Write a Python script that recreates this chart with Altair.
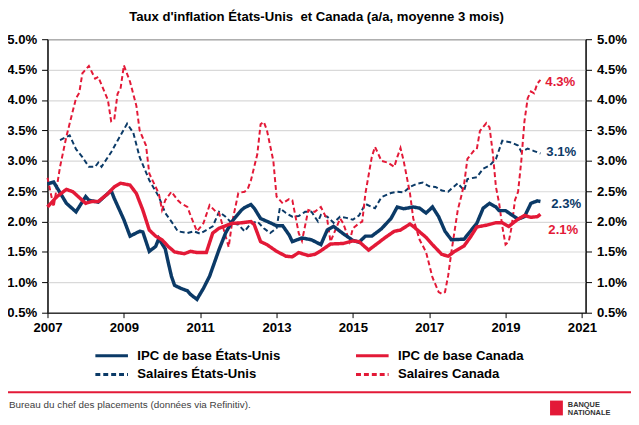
import altair as alt
import pandas as pd

NAVY = "#0b3a67"
RED = "#e31937"
FONT = "Liberation Sans"

# ---- data ----
us_cpi_dates = ["2007-01","2007-03","2007-07","2007-10","2008-01","2008-02","2008-05","2008-09","2008-10",
    "2009-01","2009-03","2009-06","2009-07","2009-09","2009-11","2009-12",
    "2010-02","2010-03","2010-04","2010-05","2010-07","2010-09","2010-10","2010-12",
    "2011-02","2011-04","2011-07","2011-09","2011-11",
    "2012-02","2012-03","2012-05","2012-06","2012-08","2012-11",
    "2013-01","2013-03","2013-05","2013-06","2013-09","2013-12",
    "2014-03","2014-05","2014-07","2014-10",
    "2015-01","2015-03","2015-05","2015-07","2015-10",
    "2016-01","2016-03","2016-05","2016-08","2016-10","2016-12",
    "2017-02","2017-04","2017-06","2017-08","2017-12",
    "2018-01","2018-04","2018-06","2018-08","2018-10","2018-11",
    "2019-01","2019-03","2019-05","2019-07","2019-09","2019-11","2019-12"]
us_cpi_values = [2.62,2.65,2.30,2.16, 2.41,2.35,2.32,2.51,2.38,
    2.03,1.76,1.84,1.83,1.51,1.59,1.72,
    1.55,1.33,1.10,0.95,0.90,0.86,0.80,0.72,
    0.90,1.10,1.54,1.81,2.00,
    2.19,2.23,2.28,2.22,2.05,1.98,
    1.93,1.93,1.78,1.67,1.73,1.70,
    1.62,1.86,1.92,1.80,
    1.69,1.66,1.76,1.76,1.88,
    2.05,2.24,2.21,2.24,2.22,2.14,
    2.24,2.08,1.84,1.70,1.71,
    1.78,1.97,2.22,2.30,2.24,2.18,
    2.18,2.11,2.04,2.08,2.30,2.34,2.33]

ca_cpi_dates = ["2007-01","2007-04","2007-07","2007-09",
    "2008-01","2008-03","2008-05","2008-08","2008-10","2008-12",
    "2009-03","2009-05","2009-07","2009-09","2009-11",
    "2010-01","2010-03","2010-05","2010-08","2010-10","2010-12",
    "2011-03","2011-05","2011-07","2011-11",
    "2012-02","2012-05","2012-06","2012-08","2012-10",
    "2013-01","2013-04","2013-06","2013-08","2013-11",
    "2014-01","2014-03","2014-06","2014-10",
    "2015-01","2015-03","2015-06","2015-09","2015-11",
    "2016-02","2016-04","2016-07","2016-08","2016-12",
    "2017-02","2017-05","2017-07","2017-09","2017-12",
    "2018-02","2018-04","2018-07","2018-10","2018-12",
    "2019-02","2019-05","2019-07","2019-09","2019-11","2019-12"]
ca_cpi_values = [2.24,2.41,2.53,2.49,
    2.30,2.33,2.33,2.46,2.57,2.63,
    2.60,2.46,2.19,1.86,1.76,
    1.70,1.59,1.50,1.47,1.51,1.49,
    1.49,1.81,1.89,1.97,
    1.98,2.00,1.95,1.67,1.62,
    1.51,1.43,1.42,1.49,1.44,
    1.46,1.52,1.63,1.64,
    1.68,1.67,1.53,1.65,1.73,
    1.84,1.86,1.96,1.92,1.74,
    1.62,1.46,1.43,1.51,1.60,
    1.75,1.91,1.94,1.98,1.98,
    1.92,2.04,2.10,2.07,2.08,2.12]

us_wage_dates = ["2007-05","2007-08","2007-10","2007-12",
    "2008-02","2008-04","2008-05","2008-06","2008-09","2008-11",
    "2009-02","2009-04","2009-06","2009-09","2009-12",
    "2010-02","2010-04","2010-06","2010-09","2010-11",
    "2011-01","2011-03","2011-05","2011-07","2011-09","2011-11",
    "2012-01","2012-03","2012-05","2012-07","2012-09","2012-11",
    "2013-01","2013-02","2013-04","2013-06","2013-08","2013-10","2013-12",
    "2014-02","2014-03","2014-05","2014-07","2014-09","2014-11",
    "2015-01","2015-03","2015-05","2015-07","2015-08","2015-10",
    "2016-01","2016-03","2016-05","2016-07","2016-09","2016-11",
    "2017-01","2017-03","2017-05","2017-07","2017-08","2017-10","2017-12",
    "2018-01","2018-04","2018-06","2018-08","2018-10","2018-12",
    "2019-03","2019-05","2019-06","2019-08","2019-10","2019-12"]
us_wage_values = [3.34,3.42,3.19,3.06,
    2.90,2.90,2.97,2.90,3.14,3.33,
    3.61,3.46,3.06,2.68,2.41,
    2.14,2.00,1.84,1.81,1.84,
    1.80,1.86,1.92,2.16,2.08,1.97,
    1.95,1.84,1.97,2.00,1.89,1.81,
    1.89,2.22,2.14,2.08,2.09,2.16,2.16,
    2.00,2.11,2.08,1.98,2.08,2.06,
    2.03,2.10,2.29,2.24,2.22,2.40,
    2.47,2.49,2.48,2.57,2.62,2.64,
    2.58,2.57,2.51,2.49,2.54,2.63,2.51,
    2.70,2.73,2.87,2.92,3.03,3.33,
    3.30,3.25,3.15,3.20,3.16,3.12]

ca_wage_dates = ["2007-01","2007-03","2007-05","2007-07","2007-10","2007-11","2007-12",
    "2008-02","2008-04","2008-05","2008-08","2008-09","2008-10","2008-11","2008-12",
    "2009-01","2009-03","2009-05","2009-06","2009-08","2009-09","2009-12",
    "2010-01","2010-02","2010-04","2010-06","2010-07","2010-09","2010-10","2010-12",
    "2011-02","2011-04","2011-06","2011-07","2011-09","2011-10","2011-11",
    "2012-01","2012-03","2012-04","2012-05","2012-07","2012-08","2012-09","2012-10","2012-12",
    "2013-01","2013-03","2013-05","2013-06","2013-08","2013-09","2013-11",
    "2014-01","2014-03","2014-05","2014-06","2014-08","2014-09","2014-10","2014-12",
    "2015-01","2015-03","2015-04","2015-05","2015-07","2015-08","2015-10","2015-12",
    "2016-02","2016-03","2016-04","2016-05","2016-07","2016-08","2016-10","2016-12",
    "2017-02","2017-04","2017-05","2017-06","2017-07","2017-08","2017-10","2017-11","2017-12",
    "2018-01","2018-03","2018-04","2018-05","2018-07","2018-08","2018-09","2018-10","2018-11","2018-12",
    "2019-01","2019-02","2019-03","2019-04","2019-05","2019-06","2019-07","2019-08","2019-09","2019-10","2019-11","2019-12"]
ca_wage_values = [2.72,2.24,2.90,3.40,4.03,4.12,4.44,
    4.56,4.35,4.38,4.00,3.65,3.68,4.10,4.20,
    4.57,4.30,3.90,3.50,3.25,2.79,2.46,
    2.19,2.35,2.49,2.35,2.30,2.24,2.10,1.84,
    1.97,2.27,2.16,2.14,1.76,1.58,1.97,
    2.47,2.49,2.54,2.68,3.11,3.60,3.64,3.50,3.00,
    2.41,2.30,2.37,2.35,1.81,1.68,2.19,
    2.16,2.24,2.03,1.67,1.92,2.05,1.97,1.67,
    1.89,1.97,2.00,2.46,3.06,3.23,3.00,2.97,
    2.90,3.06,3.21,3.00,2.46,2.05,1.70,1.50,
    1.08,0.84,0.81,0.84,1.11,1.50,2.19,2.40,2.62,
    3.03,3.16,3.19,3.49,3.62,3.55,3.13,2.57,2.30,1.92,
    1.62,1.67,1.92,2.35,2.49,3.00,3.65,4.03,4.14,4.11,4.27,4.33]

# legend order is column-major with two columns:
# column 1 = États-Unis series, column 2 = Canada series
series_names = ["IPC de base États-Unis", "Salaires États-Unis", "IPC de base Canada", "Salaires Canada"]
series_colors = [NAVY, NAVY, RED, RED]
series_dash = [[1, 0], [5, 3], [1, 0], [5, 3]]
solid_series = ["IPC de base États-Unis", "IPC de base Canada"]
dashed_series = ["Salaires États-Unis", "Salaires Canada"]
y_ticks = [0.5, 1.0, 1.5, 2.0, 2.5, 3.0, 3.5, 4.0, 4.5, 5.0]
x_tick_years = [2007, 2009, 2011, 2013, 2015, 2017, 2019, 2021]

title_text = "Taux d'inflation États-Unis\u00a0 et Canada (a/a, moyenne 3 mois)"
source_text = "Bureau du chef des placements (données via Refinitiv)."

all_series = [
    ("IPC de base États-Unis", us_cpi_dates, us_cpi_values, NAVY),
    ("IPC de base Canada", ca_cpi_dates, ca_cpi_values, RED),
    ("Salaires États-Unis", us_wage_dates, us_wage_values, NAVY),
    ("Salaires Canada", ca_wage_dates, ca_wage_values, RED),
]
rows = []
for name, ds, vs, _ in all_series:
    assert len(ds) == len(vs), name
    for d, v in zip(ds, vs):
        rows.append({"series": name, "date": d, "value": v})
df = pd.DataFrame(rows)
df["date"] = pd.to_datetime(df["date"])

Y_DOMAIN = [0.5, 5.0]
x_enc = alt.X("date:T",
    scale=alt.Scale(domain=[alt.DateTime(year=2007, month=1, date=1),
                            alt.DateTime(year=2021, month=2, date=5)]),
    axis=alt.Axis(values=[alt.DateTime(year=y, month=1, date=1) for y in x_tick_years],
                  format="%Y", title=None, tickSize=5, labelPadding=3, grid=False,
                  labelFlush=False))

label_expr = "format(datum.value, '.1f') + '%'"

def y_enc(orient, grid):
    return alt.Y("value:Q",
        scale=alt.Scale(domain=Y_DOMAIN, nice=False, zero=False),
        axis=alt.Axis(orient=orient, values=y_ticks, labelExpr=label_expr, title=None,
                      grid=grid, tickSize=6, labelPadding=5))

color_enc = alt.Color("series:N",
    scale=alt.Scale(domain=series_names, range=series_colors),
    sort=series_names, legend=alt.Legend(title=None))
dash_enc = alt.StrokeDash("series:N",
    scale=alt.Scale(domain=series_names, range=series_dash),
    sort=series_names, legend=alt.Legend(title=None))

dashed = alt.Chart(df).transform_filter(
    alt.FieldOneOfPredicate(field="series", oneOf=dashed_series)
).mark_line(strokeWidth=2).encode(
    x=x_enc, y=y_enc("left", True), color=color_enc, strokeDash=dash_enc)

solid = alt.Chart(df).transform_filter(
    alt.FieldOneOfPredicate(field="series", oneOf=solid_series)
).mark_line(strokeWidth=3.5).encode(
    x=x_enc, y=y_enc("right", False), color=color_enc, strokeDash=dash_enc)

# end-of-line value labels
label_offsets = {  # (dx, dy) in pixels
    "IPC de base États-Unis": (11, 3),
    "IPC de base Canada": (8, 16),
    "Salaires États-Unis": (6, -1),
    "Salaires Canada": (5, 2),
}
label_layers = []
for name, ds, vs, col in all_series:
    ldf = pd.DataFrame({"date": [pd.to_datetime(ds[-1])], "value": [vs[-1]],
                        "label": [f"{vs[-1]:.1f}%"]})
    dx, dy = label_offsets[name]
    label_layers.append(
        alt.Chart(ldf).mark_text(align="left", baseline="middle", dx=dx, dy=dy,
                                 font=FONT, fontSize=13.3, fontWeight="bold", color=col)
        .encode(x=alt.X("date:T"),
                y=alt.Y("value:Q", scale=alt.Scale(domain=Y_DOMAIN, nice=False, zero=False), axis=None),
                text="label:N"))

one = pd.DataFrame({"k": [0]})
footer_rule = alt.Chart(one).mark_rule(color=RED, strokeWidth=2).encode(
    x=alt.value(-40), x2=alt.value(591), y=alt.value(357.5))
footer_text = alt.Chart(one).mark_text(text=source_text, align="left", baseline="middle",
    font=FONT, fontSize=10, color="#404040").encode(x=alt.value(-39), y=alt.value(371))
logo_box = alt.Chart(one).mark_rect(color=RED).encode(
    x=alt.value(509), x2=alt.value(522), y=alt.value(366), y2=alt.value(381))
logo_t1 = alt.Chart(one).mark_text(text="BANQUE", align="left", baseline="middle",
    font=FONT, fontSize=7.5, fontWeight="bold", color="#333333").encode(x=alt.value(527), y=alt.value(370))
logo_t2 = alt.Chart(one).mark_text(text="NATIONALE", align="left", baseline="middle",
    font=FONT, fontSize=7.5, fontWeight="bold", color="#333333").encode(x=alt.value(527), y=alt.value(378.5))

chart = alt.layer(dashed, solid, *label_layers, footer_rule, footer_text, logo_box, logo_t1, logo_t2
).resolve_scale(y="independent").properties(
    width=545, height=277,
    padding={"left": 40, "top": 29, "right": 46, "bottom": 103},
    autosize=alt.AutoSizeParams(type="none"),
    title=alt.TitleParams(text=title_text, font=FONT, fontSize=13.3, fontWeight="bold",
                          color="black", anchor="middle", offset=9),
).configure_axis(
    labelFont=FONT, labelFontSize=13.3, labelFontWeight="bold", labelColor="black",
    domainColor="black", tickColor="black", gridColor="#d9d9d9", gridWidth=1.2,
).configure_view(stroke="black", strokeWidth=1).configure_legend(
    orient="none", legendX=47, legendY=311, columns=2, columnPadding=75, rowPadding=0,
    clipHeight=19,
    symbolType="stroke", symbolSize=1089, symbolStrokeWidth=3,
    labelFont=FONT, labelFontSize=13.3, labelFontWeight="bold", labelColor="black", labelOffset=8,
)

chart.save("out.html", embed_options={"renderer": "svg", "actions": False})
